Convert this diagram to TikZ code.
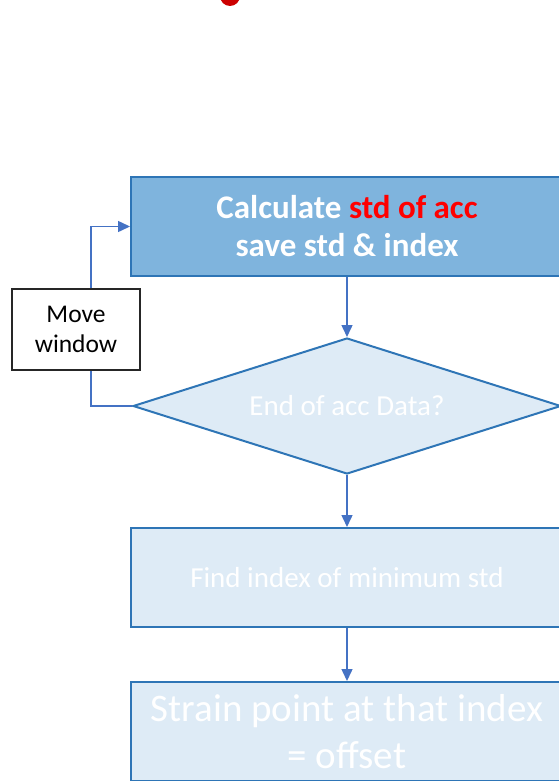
\documentclass[tikz,border=0pt]{standalone}
\usepackage{fontspec}
\setmainfont{Carlito}
\usetikzlibrary{shapes.geometric,arrows.meta}
\definecolor{darkblue}{HTML}{2E75B6}
\definecolor{midblue}{HTML}{7FB4DD}
\definecolor{paleblue}{HTML}{DEEBF6}
\definecolor{arrowblue}{HTML}{4472C4}
\definecolor{accred}{HTML}{FF0000}

\begin{document}
\begin{tikzpicture}[x=1pt,y=-1pt,
    stepbox/.style={rectangle,draw=darkblue,line width=2pt,fill=paleblue,
      minimum width=432pt,minimum height=99pt,inner sep=0pt,text=white,
      align=center},
    flow/.style={arrowblue,line width=1.5pt,-{Triangle[length=12pt,width=11pt]}}]
        \useasboundingbox (0,0) rectangle (559,781);
        \clip (0,0) rectangle (559,781);
        \fill[red!80!black] (230,-4) circle (10);

        \node[stepbox,fill=midblue,font=\fontsize{33}{38}\selectfont\bfseries] (calc) at (347,226.5)
          {Calculate \textcolor{accred}{std of acc}\\save std \& index};
        \node[rectangle,draw=black!85,line width=1.5pt,fill=white,minimum width=128pt,
          minimum height=81pt,align=center,font=\fontsize{25.5}{30}\selectfont] (move) at (76,329.5)
          {Move\\window};
        \node[diamond,draw=darkblue,line width=2pt,fill=paleblue,minimum width=428pt,
          minimum height=136pt,aspect=3.15,inner sep=0pt,text=white,
          font=\fontsize{29}{32}\selectfont] (dec) at (347,406) {End of acc Data?};
        \node[stepbox,font=\fontsize{29}{34}\selectfont] (find) at (347,577.5)
          {Find index of minimum std};
        \node[stepbox,font=\fontsize{39}{47}\selectfont] (strain) at (347,731.5)
          {Strain point at that index\\= offset};

        \draw[flow] (calc) -- (dec);
        \draw[flow] (dec) -- (find);
        \draw[flow] (find) -- (strain);
        \draw[arrowblue,line width=1.5pt] (dec.west) -| ([xshift=15pt]move.south);
        \draw[flow] ([xshift=15pt]move.north) |- (calc.west);
      \end{tikzpicture}
\end{document}
